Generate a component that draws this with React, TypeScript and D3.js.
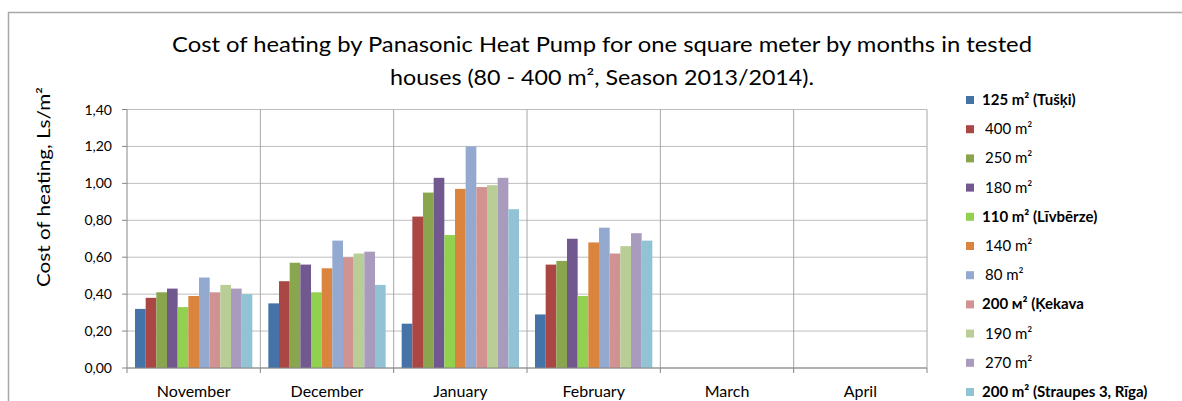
import React from "react";
import * as d3 from "d3";

const months = ["November", "December", "January", "February", "March", "April"];

const seriesNames = [
  "125 m² (Tušķi)",
  "400 m²",
  "250 m²",
  "180 m²",
  "110 m² (Līvbērze)",
  "140 m²",
  "80 m²",
  "200 м² (Ķekava",
  "190 m²",
  "270 m²",
  "200 m² (Straupes 3, Rīga)",
];

const boldSeries = [true, false, false, false, true, false, false, true, false, false, true];

const seriesColors = [
  "#4572A7", "#AA4643", "#89A54E", "#71588F", "#92D050", "#DB843D",
  "#93A9CF", "#D19392", "#B9CD96", "#A99BBD", "#92C3D5",
];

// values per series: [Nov, Dec, Jan, Feb, Mar, Apr]
const s125 = [0.32, 0.35, 0.24, 0.29, null, null];
const s400 = [0.38, 0.47, 0.82, 0.56, null, null];
const s250 = [0.41, 0.57, 0.95, 0.58, null, null];
const s180 = [0.43, 0.56, 1.03, 0.70, null, null];
const s110 = [0.33, 0.41, 0.72, 0.39, null, null];
const s140 = [0.39, 0.54, 0.97, 0.68, null, null];
const s80 = [0.49, 0.69, 1.20, 0.76, null, null];
const s200k = [0.41, 0.60, 0.98, 0.62, null, null];
const s190 = [0.45, 0.62, 0.99, 0.66, null, null];
const s270 = [0.43, 0.63, 1.03, 0.73, null, null];
const s200s = [0.40, 0.45, 0.86, 0.69, null, null];

const seriesValues = [s125, s400, s250, s180, s110, s140, s80, s200k, s190, s270, s200s];

const yTicks = [0, 0.2, 0.4, 0.6, 0.8, 1.0, 1.2, 1.4];

const FONT = "Lato, 'Open Sans', sans-serif";

export default function App() {
  const W = 1182;
  const H = 401;
  const left = 127;
  const right = 927;
  const top = 109.5;
  const bottom = 368;

  const x = d3.scaleBand<string>().domain(months).range([left, right]).padding(0);
  const xs = d3
    .scaleBand<string>()
    .domain(seriesNames)
    .range([0, x.bandwidth()])
    .paddingInner(0)
    .paddingOuter(0.75);
  const y = d3.scaleLinear().domain([0, 1.4]).range([bottom, top]);
  const fmt = (v: number) => d3.format(".2f")(v).replace(".", ",");

  const boundaries = months.map((m) => x(m)!).concat([right]);

  return (
    <svg
      width={W}
      height={H}
      style={{ position: "absolute", left: 0, top: 0, background: "#fff" }}
      fontFamily={FONT}
    >
      <rect x={0} y={0} width={W} height={H} fill="#fff" />
      {/* outer chart border */}
      <rect x={8.5} y={12.5} width={W + 20} height={H + 20} fill="none" stroke="#a8a8a8" strokeWidth={1.5} />

      {/* title */}
      <text x={602} y={52} textAnchor="middle" fontSize={21} fill="#000" textLength={860} lengthAdjust="spacingAndGlyphs">
        Cost of heating by Panasonic Heat Pump for one square meter by months in tested
      </text>
      <text x={602} y={85} textAnchor="middle" fontSize={21} fill="#000" textLength={424} lengthAdjust="spacingAndGlyphs">
        houses (80 - 400 m², Season 2013/2014).
      </text>

      {/* y axis title */}
      <text
        transform={`translate(50,187) rotate(-90)`}
        textAnchor="middle"
        fontSize={17}
        fill="#000"
        textLength={200}
        lengthAdjust="spacingAndGlyphs"
      >
        Cost of heating, Ls/m²
      </text>

      {/* horizontal gridlines */}
      {yTicks.map((t) => (
        <line key={"g" + t} x1={left} x2={right} y1={y(t)} y2={y(t)} stroke="#bdbdbd" strokeWidth={1} />
      ))}
      {/* vertical category lines */}
      {boundaries.slice(1).map((b, i) => (
        <line key={"v" + i} x1={b} x2={b} y1={top} y2={bottom} stroke="#a6a6a6" strokeWidth={1} />
      ))}

      {/* bars */}
      {months.map((m, mi) => (
        <g key={m}>
          {seriesNames.map((s, si) => {
            const v = seriesValues[si][mi];
            if (v === null || v === undefined) return null;
            return (
              <rect
                key={s}
                x={x(m)! + xs(s)!}
                y={y(v)}
                width={xs.bandwidth()}
                height={bottom - y(v)}
                fill={seriesColors[si]}
              />
            );
          })}
        </g>
      ))}

      {/* y axis */}
      <line x1={left} x2={left} y1={top} y2={bottom} stroke="#868686" strokeWidth={1} />
      {yTicks.map((t) => (
        <g key={"t" + t}>
          <line x1={left - 5} x2={left} y1={y(t)} y2={y(t)} stroke="#868686" />
          <text x={112} y={y(t) + 5} textAnchor="end" fontSize={14} fill="#000">
            {fmt(t)}
          </text>
        </g>
      ))}

      {/* x axis */}
      <line x1={left} x2={right} y1={bottom} y2={bottom} stroke="#868686" strokeWidth={1} />
      {boundaries.map((b, i) => (
        <line key={"xt" + i} x1={b} x2={b} y1={bottom} y2={bottom + 5} stroke="#868686" />
      ))}
      {months.map((m) => (
        <text key={"l" + m} x={x(m)! + x.bandwidth() / 2} y={397} textAnchor="middle" fontSize={16} fill="#000">
          {m}
        </text>
      ))}

      {/* legend */}
      {seriesNames.map((s, i) => {
        const cy = 100 + i * 29.2;
        return (
          <g key={"lg" + s}>
            <rect x={966} y={cy - 4} width={8} height={8} fill={seriesColors[i]} />
            <text
              x={boldSeries[i] ? 982 : 985}
              y={cy + 5}
              fontSize={15}
              fontWeight={boldSeries[i] ? "bold" : "normal"}
              fill="#000"
            >
              {s}
            </text>
          </g>
        );
      })}
    </svg>
  );
}
